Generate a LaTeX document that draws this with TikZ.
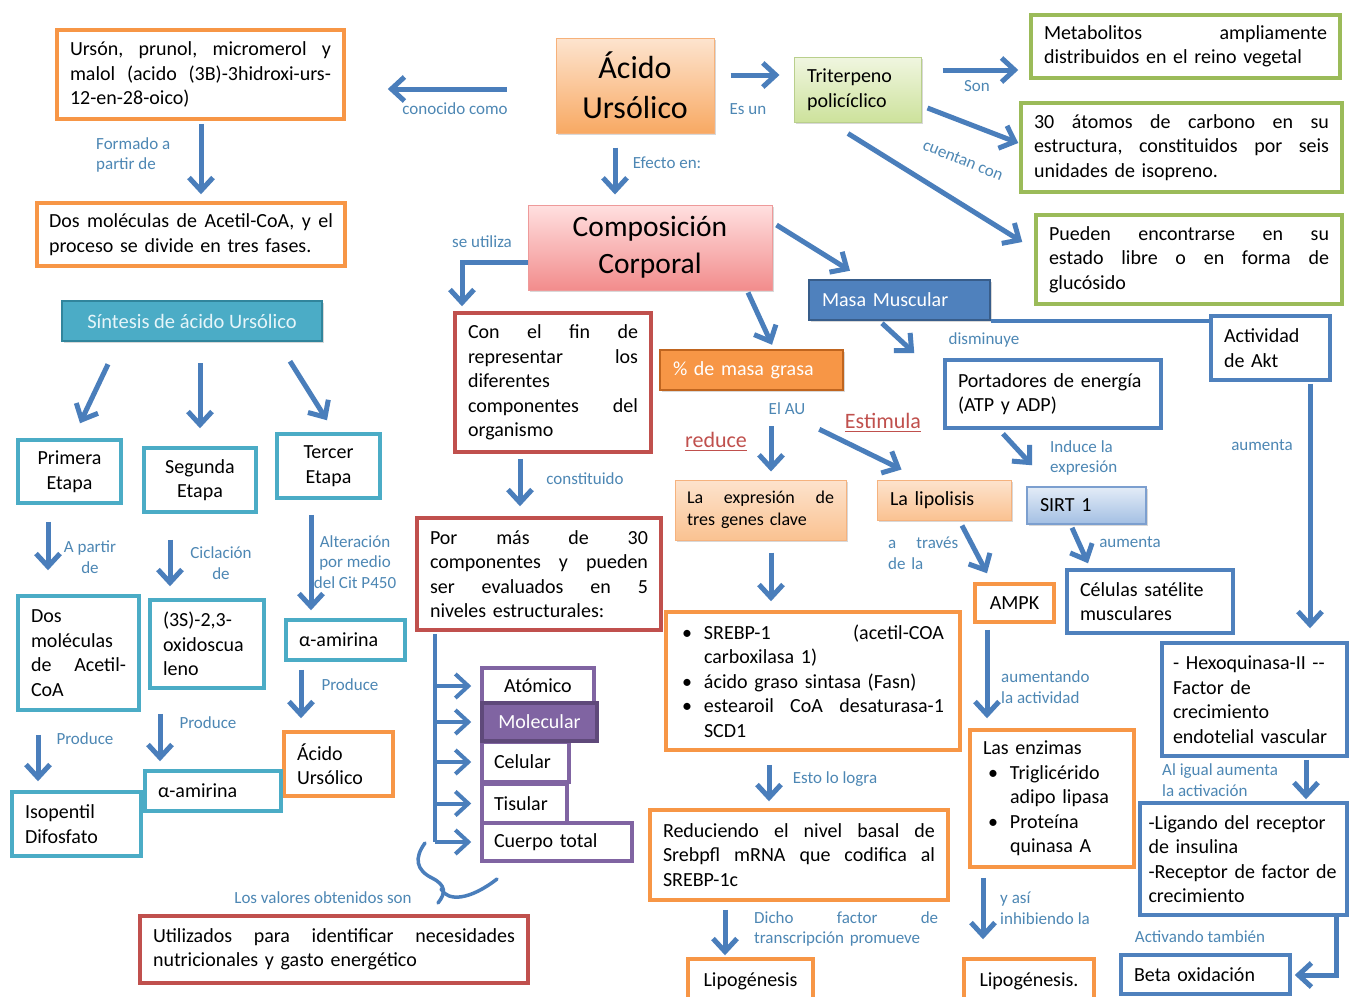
\documentclass[tikz,border=0pt]{standalone}
\usepackage{fontspec}
\setmainfont{Carlito}
\usetikzlibrary{arrows.meta,calc,shadows}
\newcommand{\fs}[2]{\fontsize{#1}{#2}\selectfont}
\def\jlx#1 #2\jlend{#1\ifx\relax#2\relax\else\hfill\jlx#2\jlend\fi}
\newcommand{\jl}[1]{\leavevmode\hbox to\hsize{\jlx#1 \jlend}\\}
\newcommand{\jlw}[2]{\hbox to #1{\jlx#2 \jlend}}
\newcommand{\bul}{\makebox[22pt][l]{\textbullet}}
\definecolor{cOrange}{HTML}{F79646}
\definecolor{cOrangeD}{HTML}{C0651F}
\definecolor{cGreen}{HTML}{9BBB59}
\definecolor{cRed}{HTML}{C0504D}
\definecolor{cTeal}{HTML}{4BACC6}
\definecolor{cTealD}{HTML}{31859C}
\definecolor{cBlue}{HTML}{4F81BD}
\definecolor{cBlueD}{HTML}{385D8A}
\definecolor{cPurple}{HTML}{8064A2}
\definecolor{cPurpleD}{HTML}{5F497A}
\definecolor{cArrow}{HTML}{4A7EBB}
\definecolor{cLabel}{HTML}{4D87B4}
\definecolor{cAcT}{HTML}{FDE4CF}
\definecolor{cAcB}{HTML}{F8A963}
\definecolor{cAcD}{HTML}{F6B17A}
\definecolor{cCoT}{HTML}{FFE0E0}
\definecolor{cCoB}{HTML}{F28C8C}
\definecolor{cCoD}{HTML}{EE9A9A}
\definecolor{cTrT}{HTML}{F0F6E0}
\definecolor{cTrB}{HTML}{CDE29C}
\definecolor{cTrD}{HTML}{B9CF8C}
\definecolor{cLoT}{HTML}{FDE3CD}
\definecolor{cLoB}{HTML}{FAC291}
\definecolor{cLoD}{HTML}{F5B27E}
\definecolor{cSiT}{HTML}{E3ECF7}
\definecolor{cSiB}{HTML}{A3BFE3}
\definecolor{cSiD}{HTML}{7C9FCF}
\definecolor{cSinT}{HTML}{E6F5F9}
\tikzset{
  box/.style={draw, line width=3.5pt, fill=white, inner xsep=13pt, inner ysep=2pt, align=left, font=\fs{20}{24.5}},
  obox/.style={box, draw=cOrange},
  gbox/.style={box, draw=cGreen},
  rbox/.style={box, draw=cRed},
  tbox/.style={box, draw=cTeal},
  bbox/.style={box, draw=cBlue},
  pbox/.style={box, draw=cPurple},
  sh/.style={drop shadow={shadow xshift=2pt, shadow yshift=-2pt, opacity=0.25, fill=black!60}},
  lab/.style={text=cLabel, font=\fs{17}{20.8}, inner sep=0pt, align=center},
  redlab/.style={text=cRed, font=\fs{22}{24}, inner sep=0pt},
  arr/.style={draw=cArrow, line width=5pt, -{Straight Barb[length=13pt, width=24pt]}},
  conn/.style={draw=cArrow, line width=4pt}
}
\begin{document}
\begin{tikzpicture}[x=1pt,y=-1pt]
\clip (0,0) rectangle (1349,996);
\fill[white] (0,0) rectangle (1349,996);

% ---------- top row
\node[obox, minimum width=287pt, minimum height=89pt, text width=261pt] (urson) at (200.5,74.5)
  {\jl{Ursón, prunol, micromerol y}\jl{malol (acido (3B)-3hidroxi-urs-}12-en-28-oico)};
\node[sh, draw=cAcD, line width=1pt, top color=cAcT, bottom color=cAcB, minimum width=158pt, minimum height=95pt, align=center, font=\fs{32}{40}] (acido) at (635,85.5) {Ácido\\Ursólico};
\node[sh, draw=cTrD, line width=1pt, top color=cTrT, bottom color=cTrB, minimum width=127pt, minimum height=65pt, text width=101pt, inner xsep=13pt, align=left, font=\fs{20}{24.5}] (triterpeno) at (857.5,89.5) {Triterpeno\\policíclico};
\node[gbox, minimum width=309pt, minimum height=63pt, text width=283pt] (metabolitos) at (1185.5,46.5)
  {\jl{Metabolitos ampliamente}distribuidos en el reino vegetal};
\node[gbox, minimum width=321pt, minimum height=89pt, text width=295pt] (atomos) at (1181.5,147.5)
  {\jl{30 átomos de carbono en su}\jl{estructura, constituidos por seis}unidades de isopreno.};
\node[gbox, minimum width=306pt, minimum height=89pt, text width=280pt] (pueden) at (1189,259.5)
  {\jl{Pueden encontrarse en su}\jl{estado libre o en forma de}glucósido};
\node[obox, minimum width=308pt, minimum height=63pt, text width=284pt, inner xsep=12pt] (dosacetil) at (191,234.5)
  {\jl{Dos moléculas de Acetil-CoA, y el}proceso se divide en tres fases.};
\node[sh, draw=cCoD, line width=1pt, top color=cCoT, bottom color=cCoB, minimum width=244pt, minimum height=85pt, align=center, font=\fs{29.5}{37}] (composicion) at (650,247.5) {Composición\\Corporal};

% ---------- middle
\node[sh, draw=cTealD, line width=2.5pt, fill=cTeal, text=cSinT, minimum width=260pt, minimum height=40pt, font=\fs{20.5}{24.5}] (sintesis) at (192,321) {Síntesis de ácido Ursólico};
\node[sh, draw=cBlueD, line width=2.5pt, fill=cBlue, text=white, minimum width=181pt, minimum height=40pt, text width=155pt, inner xsep=13pt, align=left, font=\fs{20}{24.5}] (masamusc) at (899.5,300) {Masa Muscular};
\node[rbox, minimum width=196pt, minimum height=139pt, text width=170pt] (confin) at (553,382.5)
  {\jl{Con el fin de}\jl{representar los}diferentes\\\jl{componentes del}organismo};
\node[sh, draw=cOrangeD, line width=2.5pt, fill=cOrange, text=white, minimum width=183pt, minimum height=40pt, text width=157pt, inner xsep=13pt, align=left, font=\fs{20}{24.5}] (masagrasa) at (751.5,370) {\% de masa grasa};
\node[bbox, minimum width=216pt, minimum height=68pt, text width=190pt] (portadores) at (1053,394) {Portadores de energía\\(ATP y ADP)};
\node[bbox, minimum width=119pt, minimum height=64pt, text width=93pt] (actividad) at (1270.5,348) {Actividad\\de Akt};
\node[sh, draw=cLoD, line width=1pt, top color=cLoT, bottom color=cLoB, minimum width=171pt, minimum height=60pt, text width=147pt, inner xsep=12pt, align=left, font=\fs{18}{22}] (expresion) at (760.5,510)
  {\jl{La expresión de}tres genes clave};
\node[sh, draw=cLoD, line width=1pt, top color=cLoT, bottom color=cLoB, minimum width=134pt, minimum height=40pt, text width=108pt, inner xsep=13pt, align=left, font=\fs{20}{24.5}] (lipolisis) at (944,500) {La lipolisis};
\node[sh, draw=cSiD, line width=1.5pt, top color=cSiT, bottom color=cSiB, minimum width=119pt, minimum height=37pt, text width=93pt, inner xsep=13pt, align=left, font=\fs{20}{24.5}] (sirt) at (1086.5,505.5) {SIRT 1};

\node[tbox, minimum width=103pt, minimum height=63pt, text width=77pt, align=center] (primera) at (69.5,471.5) {Primera\\Etapa};
\node[tbox, minimum width=112pt, minimum height=64pt, text width=86pt, align=center] (segunda) at (200,480) {Segunda\\Etapa};
\node[tbox, minimum width=103pt, minimum height=64pt, text width=77pt, align=center] (tercer) at (328.5,466) {Tercer\\Etapa};

\node[rbox, minimum width=244pt, minimum height=112pt, text width=218pt] (pormas) at (539,574)
  {\jl{Por más de 30}\jl{componentes y pueden}\jl{ser evaluados en 5}niveles estructurales:};
\node[obox, minimum width=79pt, minimum height=38pt, inner xsep=6pt] (ampk) at (1014.5,603) {AMPK};
\node[bbox, minimum width=166pt, minimum height=63pt, text width=140pt] (celulas) at (1150,601.5) {Células satélite\\musculares};
\node[obox, minimum width=294pt, minimum height=138pt, text width=262pt, inner xsep=16pt] (srebp) at (813,681)
  {\bul\jlw{240pt}{SREBP-1 (acetil-COA}\\\hspace*{22pt}carboxilasa 1)\\\bul ácido graso sintasa (Fasn)\\\bul\jlw{240pt}{estearoil CoA desaturasa-1}\\\hspace*{22pt}SCD1};

% ---------- lower left
\node[tbox, minimum width=121pt, minimum height=114pt, text width=95pt] (dosmol2) at (78.5,653) {Dos\\moléculas\\\jl{de Acetil-}CoA};
\node[tbox, minimum width=114pt, minimum height=88pt, text width=88pt] (oxido) at (207,644) {(3S)-2,3-\\oxidoscua\\leno};
\node[tbox, minimum width=119pt, minimum height=40pt, text width=93pt] (amirina1) at (345.5,640) {α-amirina};
\node[obox, minimum width=109pt, minimum height=64pt, text width=83pt] (acidosmall) at (338.5,764) {Ácido\\Ursólico};
\node[tbox, minimum width=136pt, minimum height=40pt, text width=110pt] (amirina2) at (213,791) {α-amirina};
\node[tbox, minimum width=129pt, minimum height=64pt, text width=103pt] (isopentil) at (76.5,824) {Isopentil\\Difosfato};

% ---------- levels
\node[pbox, minimum width=112pt, minimum height=36pt] (atomico) at (538,686) {Atómico};
\node[pbox, minimum width=87pt, minimum height=40pt, text width=63pt, inner xsep=12pt] (celular) at (525.5,762) {Celular};
\node[pbox, minimum width=85pt, minimum height=39pt, text width=61pt, inner xsep=12pt] (tisular) at (524.5,803.5) {Tisular};
\node[pbox, minimum width=150pt, minimum height=38pt, text width=126pt, inner xsep=12pt] (cuerpo) at (557,842) {Cuerpo total};
\node[draw=cPurpleD, line width=3.5pt, fill=cPurple, text=white, minimum width=115pt, minimum height=38pt, font=\fs{20}{24.5}] (molecular) at (539.5,722) {Molecular};

% ---------- lower right
\node[bbox, minimum width=185pt, minimum height=113pt, text width=163pt, inner xsep=11pt] (hexo) at (1254.5,699.5) {- Hexoquinasa-II -{}-\\Factor de\\crecimiento\\endotelial vascular};
\node[obox, minimum width=164pt, minimum height=137pt, text width=138pt] (enzimas) at (1052,798.5)
  {Las enzimas\\\hspace*{5pt}\bul Triglicérido\\\hspace*{27pt}adipo lipasa\\\hspace*{5pt}\bul Proteína\\\hspace*{27pt}quinasa A};
\node[obox, minimum width=298pt, minimum height=90pt, text width=272pt] (reduciendo) at (799,855)
  {\jl{Reduciendo el nivel basal de}\jl{Srebpfl mRNA que codifica al}SREBP-1c};
\node[bbox, minimum width=207pt, minimum height=112pt, text width=190pt, inner xsep=8.5pt] (ligando) at (1243.5,859) {-Ligando del receptor\\de insulina\\-Receptor de factor de\\crecimiento};
\node[rbox, minimum width=388pt, minimum height=67pt, text width=362pt] (utilizados) at (334,949.5)
  {\jl{Utilizados para identificar necesidades}nutricionales y gasto energético};
\node[obox, minimum width=125pt, minimum height=44pt] (lipo1) at (750.5,981) {Lipogénesis};
\node[obox, minimum width=130pt, minimum height=44pt] (lipo2) at (1029,981) {Lipogénesis.};
\node[bbox, minimum width=169pt, minimum height=39pt, text width=143pt] (beta) at (1205.5,974.5) {Beta oxidación};

% ---------- labels
\node[lab] (l1) at (455,109) {conocido como};
\node[lab, align=left, anchor=west] (l2) at (96,155) {Formado a\\partir de};
\node[lab] (l3) at (748,109) {Es un};
\node[lab] (l4) at (977,86) {Son};
\node[lab, rotate=-22] (l5) at (963,160) {cuentan con};
\node[lab] (l6) at (667,163) {Efecto en:};
\node[lab] (l7) at (482,242) {se utiliza};
\node[lab] (l8) at (984,340) {disminuye};
\node[lab] (l9) at (585,479) {constituido};
\node[lab] (l10) at (787,409) {El AU};
\node[redlab] (reduce) at (716,440) {reduce};
\node[redlab] (estimula) at (883,421) {Estimula};
\draw[cRed, line width=1.3pt] ($(reduce.base west)+(0,3)$) -- ($(reduce.base east)+(0,3)$);
\draw[cRed, line width=1.3pt] ($(estimula.base west)+(0,3)$) -- ($(estimula.base east)+(0,3)$);
\node[lab, align=left, anchor=west] (l11) at (1050,458) {Induce la\\expresión};
\node[lab] (l12) at (1262,445) {aumenta};
\node[lab] (l13) at (90,557) {A partir\\de};
\node[lab] (l14) at (221,563) {Ciclación\\de};
\node[lab] (l15) at (355,562) {Alteración\\por medio\\del Cit P450};
\node[lab, text width=70pt, align=left, anchor=west] (l16) at (888,553) {\jl{a través}de la};
\node[lab] (l17) at (1130,542) {aumenta};
\node[lab, align=left, anchor=west] (l18) at (1001,687) {aumentando\\la actividad};
\node[lab] (l19) at (350,685) {Produce};
\node[lab] (l20) at (208,723) {Produce};
\node[lab] (l21) at (85,739) {Produce};
\node[lab, align=left, anchor=west] (l22) at (1162,780) {Al igual aumenta\\la activación};
\node[lab] (l23) at (835,779) {Esto lo logra};
\node[lab, text width=184pt, align=left, anchor=west] (l24) at (754,929) {\jl{Dicho factor de}transcripción promueve};
\node[lab, align=left, anchor=west] (l25) at (1000,908) {y así\\inhibiendo la};
\node[lab] (l26) at (1200,937) {Activando también};
\node[lab] (l27) at (323,898) {Los valores obtenidos son};

% ---------- connectors
\draw[arr] ($(acido.west)+(-49,3.5)$) -- ($(urson.east)+(42,14.5)$);
\draw[arr] ($(urson.south)+(0.5,3)$) -- ($(dosacetil.north)+(10,-7)$);
\draw[arr] ($(acido.east)+(16,-10.5)$) -- ($(triterpeno.west)+(-14,-14.5)$);
\draw[arr] ($(triterpeno.east)+(21,-19.5)$) -- ($(metabolitos.west)+(-11,23.5)$);
\draw[arr] ($(triterpeno.east)+(6,18.5)$) -- ($(atomos.west)+(-1,-4.5)$);
\draw[arr] ($(triterpeno.south)+(-9.5,11)$) -- ($(pueden.west)+(-12,-17.5)$);
\draw[arr] ($(acido.south)+(-20,14)$) -- ($(composicion.north)+(-35,-10)$);
\draw[arr] ($(composicion.west)+(0,14.5)$) -| ($(confin.north)+(-91,-5)$);
\draw[arr] ($(composicion.east)+(4,-22.5)$) -- ($(masamusc.north)+(-49.5,-8)$);
\draw[arr] ($(composicion.south)+(98,2)$) -- ($(masagrasa.north)+(20.5,-4)$);
\draw[arr] ($(masamusc.south)+(-17.5,2)$) -- ($(portadores.west)+(-29,-41)$);
\draw[conn] (masamusc.south east) -- (masamusc.south east -| actividad.west);
\draw[arr] ($(confin.south)+(-33,5)$) -- ($(pormas.north)+(-19,-10)$);
\draw[arr] ($(masagrasa.south)+(19.5,35)$) -- ($(expresion.north)+(10.5,-8)$);
\draw[arr] ($(masagrasa.south east)+(-25,38)$) -- ($(lipolisis.north west)+(25,-10)$);
\draw[arr] ($(portadores.south)+(-50,4)$) -- ($(sirt.north)+(-54.5,-21)$);
\draw[arr] ($(actividad.south)+(39.5,2)$) -- ($(hexo.north)+(55.5,-13)$);
\draw[arr] ($(sintesis.south)+(-84,22)$) -- ($(primera.north)+(10.5,-15)$);
\draw[arr] ($(sintesis.south)+(8,21)$) -- ($(segunda.north)+(0,-18)$);
\draw[arr] ($(sintesis.south)+(98,19)$) -- ($(tercer.north)+(-1.5,-12)$);
\draw[arr] ($(primera.south)+(-21.5,17)$) -- ($(dosmol2.north)+(-30.5,-24)$);
\draw[arr] ($(segunda.south)+(-30,26)$) -- ($(oxido.north)+(-37,-12)$);
\draw[arr] ($(tercer.south)+(-17.5,15)$) -- ($(amirina1.north)+(-34.5,-8)$);
\draw[arr] ($(expresion.south)+(10.5,12)$) -- ($(srebp.north)+(-42,-9)$);
\draw[arr] ($(lipolisis.south)+(18,5)$) -- ($(ampk.north)+(-27.5,-9)$);
\draw[arr] ($(sirt.south)+(-14.5,3)$) -- ($(celulas.north)+(-62,-5)$);
\draw[arr] ($(ampk.south)+(-27.5,6)$) -- ($(enzimas.north)+(-65,-10)$);
\draw[arr] ($(amirina1.south)+(-44.5,8)$) -- ($(acidosmall.north)+(-37.5,-12)$);
\draw[arr] ($(oxido.south)+(-47,24)$) -- ($(amirina2.north)+(-53,-8)$);
\draw[arr] ($(dosmol2.south)+(-40.5,23)$) -- ($(isopentil.north)+(-38.5,-9)$);
\draw[arr] ($(hexo.south)+(51.5,2)$) -- ($(ligando.north)+(62.5,-2)$);
\draw[arr] ($(srebp.south)+(-44,13)$) -- ($(reduciendo.north)+(-30,-7)$);
\draw[arr] ($(reduciendo.south)+(-74,8)$) -- ($(lipo1.north)+(-25.5,-2)$);
\draw[arr] ($(enzimas.south)+(-69,9)$) -- ($(lipo2.north)+(-46,-18)$);
\draw[arr] ($(ligando.south)+(92.5,0)$) |- ($(beta.east)+(3,0.5)$);

% levels bus
\coordinate (bus) at ($(pormas.south west)+(20,2)$);
\draw[conn] (bus) -- (bus |- cuerpo.west);
\foreach \n in {atomico,molecular,celular,tisular,cuerpo}
  \draw[arr, line width=4pt] (bus |- \n.west) -- ($(\n.west)+(-9,0)$);

% squiggle brace
\draw[draw=cArrow, line width=3.5pt, line cap=round] (425,843) .. controls (414,858) and (416,870) .. (432,878) .. controls (446,885) and (446,893) .. (438,903);
\draw[draw=cArrow, line width=3.5pt, line cap=round] (441,889) .. controls (448,902) and (470,900) .. (497,879);
\end{tikzpicture}
\end{document}
